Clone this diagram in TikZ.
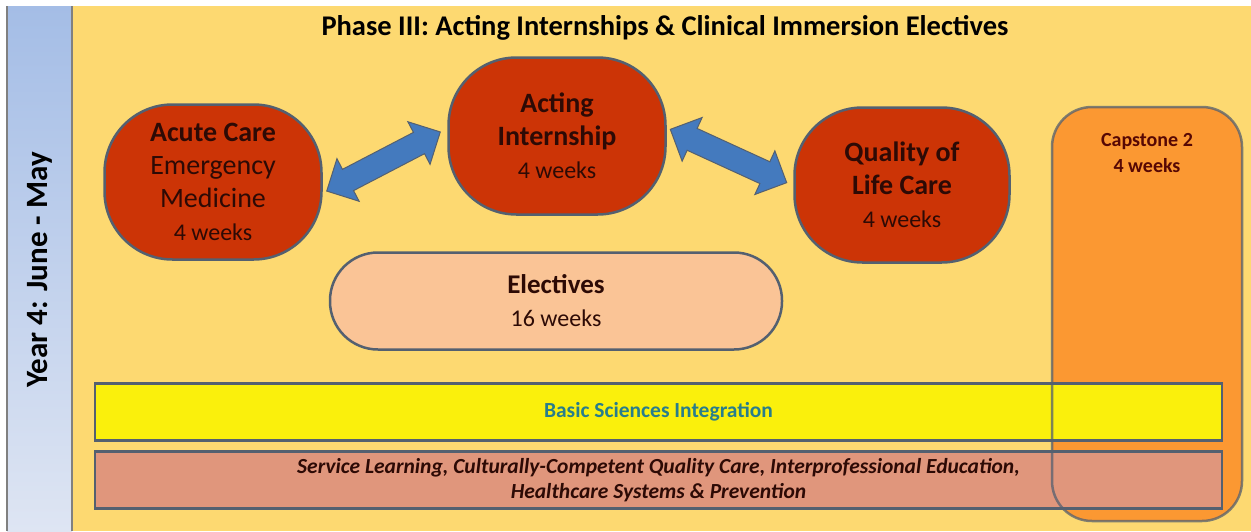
\documentclass[tikz,border=0pt]{standalone}
\usepackage{fontspec}
\setmainfont{Carlito}
\usetikzlibrary{shapes.arrows}

\definecolor{bgyellow}{RGB}{253,217,113}
\definecolor{paneltop}{RGB}{164,189,230}
\definecolor{panelbot}{RGB}{222,229,243}
\definecolor{edgegray}{RGB}{84,96,112}
\definecolor{carered}{RGB}{204,52,6}
\definecolor{peach}{RGB}{250,196,150}
\definecolor{caporange}{RGB}{251,152,50}
\definecolor{sciyellow}{RGB}{250,240,12}
\definecolor{salmon}{RGB}{224,150,124}
\definecolor{arrowblue}{RGB}{68,122,190}
\definecolor{darktext}{RGB}{45,10,5}
\definecolor{teal}{RGB}{40,125,140}

\begin{document}
\begin{tikzpicture}[x=1pt, y=-1pt,
    phase/.style={draw=edgegray, line width=2.5pt, fill=carered, rounded corners=68pt,
      minimum width=217pt, minimum height=155pt, align=center, text=darktext,
      font=\fontsize{28}{33}\selectfont},
    bar/.style={draw=edgegray, line width=2.5pt, minimum width=1127pt, minimum height=57pt,
      align=center, inner sep=0pt},
    twoway/.style={double arrow, draw=edgegray, line width=1pt, fill=arrowblue,
      minimum height=128pt, inner sep=11.5pt, double arrow head extend=12pt}]

    % background and year panel
    \useasboundingbox (0, 0) rectangle (1251, 531);
    \fill[white] (0, 0) rectangle (1251, 531);
    \fill[bgyellow] (72, 6) rectangle (1251, 531);
    \shade[top color=paneltop, bottom color=panelbot] (7, 6) rectangle (72, 531);
    \draw[gray, line width=1.5pt] (7, 6) -- (7, 531);
    \draw[gray, line width=1.5pt] (72, 6) -- (72, 531);
    \node[rotate=90, font=\bfseries\fontsize{31}{34}\selectfont] (year) at (40, 270) {Year 4: June - May};

    \node[font=\bfseries\fontsize{28.5}{32}\selectfont] (title) at (665, 28)
        {Phase III: Acting Internships \& Clinical Immersion Electives};

    % capstone block behind the bars
    \fill[caporange, rounded corners=40pt] (1052, 107) rectangle (1242, 521);
    \node[align=center, text=darktext!80!red, font=\bfseries\fontsize{20}{26}\selectfont] (capstone)
        at (1147, 153) {Capstone 2\\4 weeks};

    \node[phase] (acute) at (213, 182)
        {\textbf{Acute Care}\\Emergency\\Medicine\\{\fontsize{24}{33}\selectfont 4 weeks}};
    \node[phase, minimum height=157pt] (acting) at (557, 136)
        {\textbf{Acting}\\\textbf{Internship}\\{\fontsize{24}{33}\selectfont 4 weeks}};
    \node[phase, minimum width=215pt] (quality) at (902, 185)
        {\textbf{Quality of}\\\textbf{Life Care}\\{\fontsize{24}{33}\selectfont 4 weeks}};

    \node[draw=edgegray, line width=2.5pt, fill=peach, rounded corners=48pt,
        minimum width=452pt, minimum height=97pt, align=center, text=darktext,
        font=\fontsize{24}{33}\selectfont] (electives) at (556, 301)
        {{\bfseries\fontsize{27}{33}\selectfont Electives}\\16 weeks};

    % arrows between the rotations
    \coordinate (a1) at ([shift={(6, 8)}]acute.east);
    \coordinate (a2) at ([shift={(-9, -3)}]acting.west);
    \coordinate (a3) at ([shift={(5, -6)}]acting.east);
    \coordinate (a4) at ([shift={(-8, -3)}]quality.west);
    \path (a1) -- node[twoway, sloped] {} (a2);
    \path (a3) -- node[twoway, sloped] {} (a4);

    \node[bar, fill=sciyellow, text=teal, font=\bfseries\fontsize{21.5}{24}\selectfont] (basic)
        at (658.5, 412) {Basic Sciences Integration};
    \node[bar, fill=salmon, text=darktext, font=\bfseries\itshape\fontsize{21.5}{25}\selectfont] (service)
        at (658.5, 480) {Service Learning, Culturally-Competent Quality Care, Interprofessional Education,\\Healthcare Systems \& Prevention};

    \draw[edgegray, line width=2.5pt, draw opacity=0.75, rounded corners=40pt]
        (1052, 107) rectangle (1242, 521);

\end{tikzpicture}
\end{document}
